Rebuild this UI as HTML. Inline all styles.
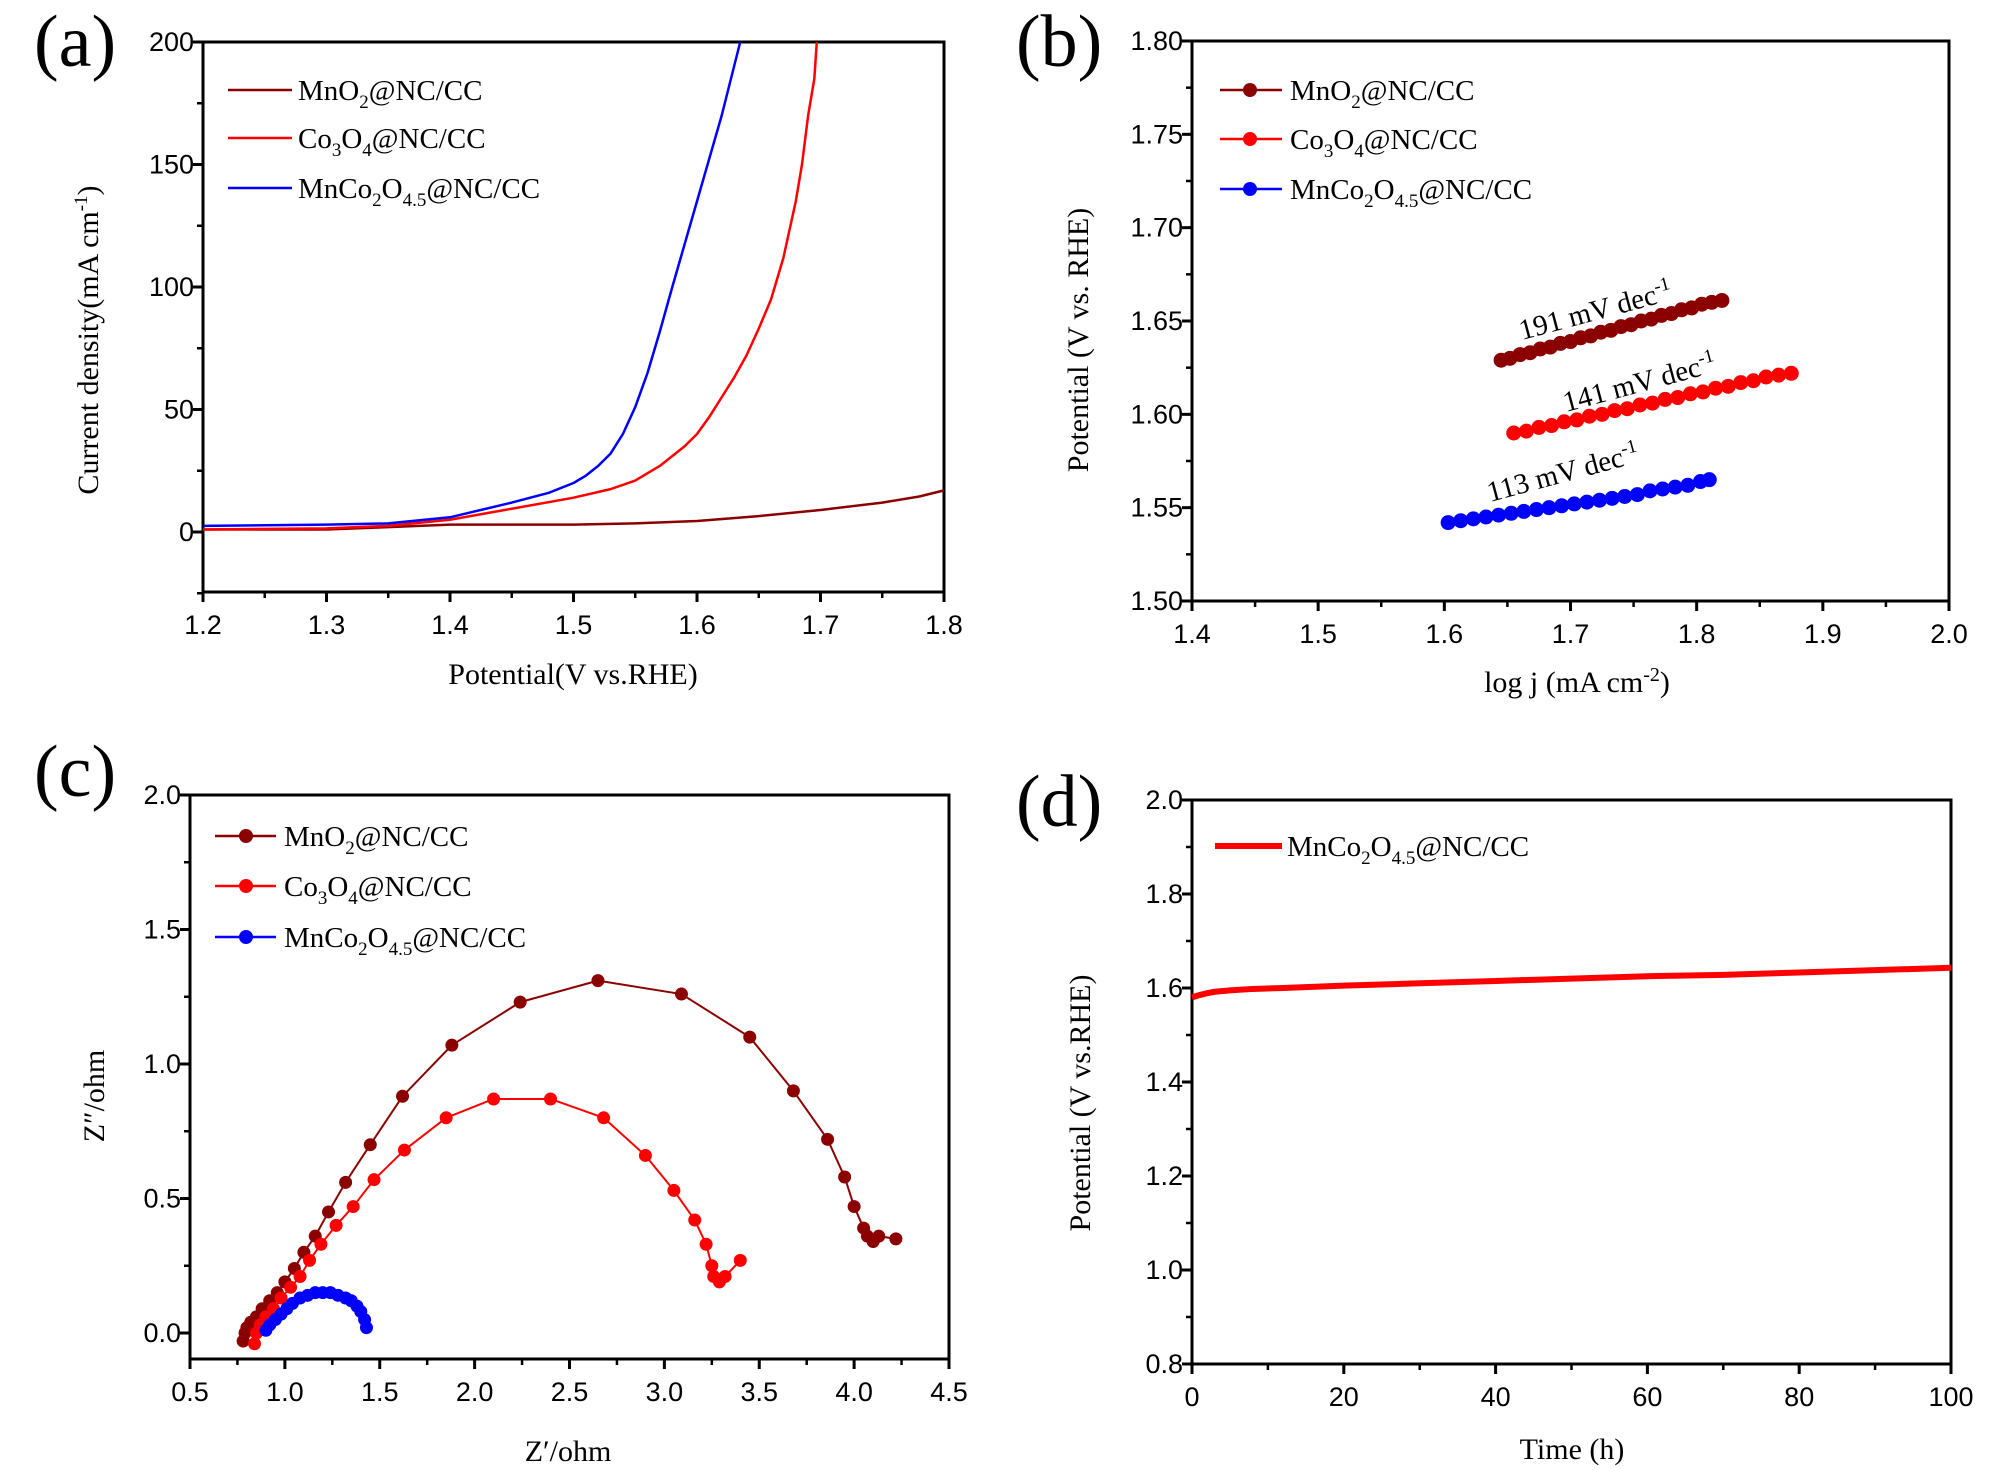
<!DOCTYPE html>
<html><head><meta charset="utf-8"><style>
html,body{margin:0;padding:0;background:#fff;}
svg{display:block;}
.tk{font-family:"Liberation Sans",sans-serif;font-size:27px;fill:#000;}
.tt{font-family:"Liberation Serif",serif;font-size:30px;fill:#000;}
.lg{font-family:"Liberation Serif",serif;font-size:29px;fill:#000;}
.pl{font-family:"Liberation Serif",serif;font-size:74px;fill:#000;}
</style></head><body>
<svg id="fig" width="2000" height="1470" viewBox="0 0 2000 1470" xmlns="http://www.w3.org/2000/svg">
<g id="layer"></g>
<text class="pl" x="34" y="66">(a)</text>
<text class="pl" x="1016" y="66">(b)</text>
<text class="pl" x="34" y="796">(c)</text>
<text class="pl" x="1016" y="826">(d)</text>

<text class="tt" x="573" y="684" text-anchor="middle">Potential(V vs.RHE)</text>
<text class="tt" transform="translate(98,340) rotate(-90)" text-anchor="middle">Current density(mA cm<tspan dy="-11" font-size="19">-1</tspan><tspan dy="11">)</tspan></text>
<text class="tt" x="1577" y="692" text-anchor="middle" font-size="33">log j (mA cm<tspan dy="-11" font-size="20">-2</tspan><tspan dy="11">)</tspan></text>
<text class="tt" transform="translate(1088,340) rotate(-90)" text-anchor="middle">Potential (V vs. RHE)</text>
<text class="tt" x="568" y="1461" text-anchor="middle" font-size="33">Z′/ohm</text>
<text class="tt" transform="translate(104,1096) rotate(-90)" text-anchor="middle" font-size="33">Z″/ohm</text>
<text class="tt" x="1572" y="1459" text-anchor="middle">Time (h)</text>
<text class="tt" transform="translate(1090,1103) rotate(-90)" text-anchor="middle">Potential (V vs.RHE)</text>

<g>
<line x1="228" y1="90" x2="292" y2="90" stroke="#8b0000" stroke-width="2.5"/>
<text class="lg" x="298" y="100">MnO<tspan dy="8" font-size="19">2</tspan><tspan dy="-8">@NC/CC</tspan></text>
<line x1="228" y1="138" x2="292" y2="138" stroke="#ff0000" stroke-width="2.5"/>
<text class="lg" x="298" y="148">Co<tspan dy="8" font-size="19">3</tspan><tspan dy="-8">O</tspan><tspan dy="8" font-size="19">4</tspan><tspan dy="-8">@NC/CC</tspan></text>
<line x1="228" y1="188" x2="292" y2="188" stroke="#0000ff" stroke-width="2.5"/>
<text class="lg" x="298" y="198">MnCo<tspan dy="8" font-size="19">2</tspan><tspan dy="-8">O</tspan><tspan dy="8" font-size="19">4.5</tspan><tspan dy="-8">@NC/CC</tspan></text>
</g>
<g>
<line x1="1220" y1="90" x2="1282" y2="90" stroke="#8b0000" stroke-width="2.5"/><circle cx="1250" cy="90" r="7" fill="#8b0000"/>
<text class="lg" x="1290" y="100">MnO<tspan dy="8" font-size="19">2</tspan><tspan dy="-8">@NC/CC</tspan></text>
<line x1="1220" y1="139" x2="1282" y2="139" stroke="#ff0000" stroke-width="2.5"/><circle cx="1250" cy="139" r="7" fill="#ff0000"/>
<text class="lg" x="1290" y="149">Co<tspan dy="8" font-size="19">3</tspan><tspan dy="-8">O</tspan><tspan dy="8" font-size="19">4</tspan><tspan dy="-8">@NC/CC</tspan></text>
<line x1="1220" y1="189" x2="1282" y2="189" stroke="#0000ff" stroke-width="2.5"/><circle cx="1250" cy="189" r="7" fill="#0000ff"/>
<text class="lg" x="1290" y="199">MnCo<tspan dy="8" font-size="19">2</tspan><tspan dy="-8">O</tspan><tspan dy="8" font-size="19">4.5</tspan><tspan dy="-8">@NC/CC</tspan></text>
</g>
<g>
<line x1="215" y1="836" x2="276" y2="836" stroke="#8b0000" stroke-width="2.5"/><circle cx="246" cy="836" r="7" fill="#8b0000"/>
<text class="lg" x="284" y="846">MnO<tspan dy="8" font-size="19">2</tspan><tspan dy="-8">@NC/CC</tspan></text>
<line x1="215" y1="886" x2="276" y2="886" stroke="#ff0000" stroke-width="2.5"/><circle cx="246" cy="886" r="7" fill="#ff0000"/>
<text class="lg" x="284" y="896">Co<tspan dy="8" font-size="19">3</tspan><tspan dy="-8">O</tspan><tspan dy="8" font-size="19">4</tspan><tspan dy="-8">@NC/CC</tspan></text>
<line x1="215" y1="937" x2="276" y2="937" stroke="#0000ff" stroke-width="2.5"/><circle cx="246" cy="937" r="7" fill="#0000ff"/>
<text class="lg" x="284" y="947">MnCo<tspan dy="8" font-size="19">2</tspan><tspan dy="-8">O</tspan><tspan dy="8" font-size="19">4.5</tspan><tspan dy="-8">@NC/CC</tspan></text>
</g>
<g>
<line x1="1215" y1="846" x2="1282" y2="846" stroke="#ff0000" stroke-width="6"/>
<text class="lg" x="1287" y="856">MnCo<tspan dy="8" font-size="19">2</tspan><tspan dy="-8">O</tspan><tspan dy="8" font-size="19">4.5</tspan><tspan dy="-8">@NC/CC</tspan></text>
</g>
<text class="lg" font-size="31" transform="translate(1522,340) rotate(-15)">191 mV dec<tspan dy="-11" font-size="19">-1</tspan></text>
<text class="lg" font-size="31" transform="translate(1566,412) rotate(-15)">141 mV dec<tspan dy="-11" font-size="19">-1</tspan></text>
<text class="lg" font-size="31" transform="translate(1490,502) rotate(-15)">113 mV dec<tspan dy="-11" font-size="19">-1</tspan></text>
</svg>
<script>
// Panel (a) LSV data
const aMnO2X=[1.2,1.3,1.35,1.4,1.5,1.55,1.6,1.65,1.7,1.75,1.78,1.8];
const aMnO2Y=[1,1,2,3,3,3.5,4.5,6.5,9,12,14.5,17];
const aCoX=[1.2,1.3,1.35,1.4,1.45,1.5,1.53,1.55,1.57,1.59,1.6,1.61,1.62,1.63,1.64,1.65,1.66,1.67,1.68,1.685,1.69,1.695,1.697];
const aCoY=[1,1.5,2.5,5,9.5,14,17.5,21,27,35,40,47,55,63,72,83,95,112,135,150,170,185,200];
const aMnCoX=[1.2,1.3,1.35,1.4,1.45,1.48,1.5,1.51,1.52,1.53,1.54,1.55,1.56,1.57,1.58,1.6,1.62,1.635];
const aMnCoY=[2.5,3,3.5,6,12,16,20,23,27,32,40,51,65,82,100,135,170,200];
// Panel (b) Tafel data
const bMnO2X=[1.645,1.652,1.66,1.668,1.676,1.684,1.692,1.70,1.708,1.716,1.724,1.732,1.74,1.748,1.756,1.764,1.772,1.78,1.788,1.796,1.804,1.812,1.82];
const bMnO2Y=[1.629,1.630,1.632,1.633,1.635,1.636,1.638,1.639,1.641,1.642,1.644,1.645,1.647,1.648,1.650,1.651,1.653,1.654,1.656,1.657,1.659,1.660,1.661];
const bCoX=[1.655,1.665,1.675,1.685,1.695,1.705,1.715,1.725,1.735,1.745,1.755,1.765,1.775,1.785,1.795,1.805,1.815,1.825,1.835,1.845,1.855,1.865,1.875];
const bCoY=[1.590,1.591,1.593,1.594,1.596,1.597,1.599,1.600,1.602,1.603,1.605,1.606,1.608,1.609,1.611,1.612,1.614,1.615,1.617,1.618,1.620,1.621,1.622];
const bMnCoX=[1.603,1.613,1.623,1.633,1.643,1.653,1.663,1.673,1.683,1.693,1.703,1.713,1.723,1.733,1.743,1.753,1.763,1.773,1.783,1.793,1.803,1.81];
const bMnCoY=[1.542,1.543,1.544,1.545,1.546,1.547,1.548,1.549,1.550,1.551,1.552,1.553,1.554,1.555,1.556,1.557,1.559,1.560,1.561,1.562,1.564,1.565];
// Panel (c) EIS data
const cMnO2X=[0.78,0.79,0.80,0.82,0.85,0.88,0.92,0.96,1.00,1.05,1.10,1.16,1.23,1.32,1.45,1.62,1.88,2.24,2.65,3.09,3.45,3.68,3.86,3.95,4.00,4.05,4.07,4.10,4.13,4.22];
const cMnO2Y=[-0.03,0,0.02,0.04,0.06,0.09,0.12,0.15,0.19,0.24,0.30,0.36,0.45,0.56,0.70,0.88,1.07,1.23,1.31,1.26,1.10,0.90,0.72,0.58,0.47,0.39,0.36,0.34,0.36,0.35];
const cCoX=[0.84,0.85,0.87,0.90,0.94,0.98,1.03,1.08,1.13,1.19,1.27,1.36,1.47,1.63,1.85,2.10,2.40,2.68,2.90,3.05,3.16,3.22,3.25,3.26,3.29,3.32,3.40];
const cCoY=[-0.04,0,0.03,0.06,0.09,0.13,0.17,0.21,0.27,0.33,0.40,0.47,0.57,0.68,0.80,0.87,0.87,0.80,0.66,0.53,0.42,0.33,0.25,0.21,0.19,0.21,0.27];
const cMnCoX=[0.90,0.92,0.95,0.98,1.01,1.04,1.08,1.12,1.16,1.20,1.24,1.28,1.32,1.35,1.38,1.40,1.42,1.43];
const cMnCoY=[0.01,0.03,0.05,0.07,0.09,0.11,0.13,0.14,0.15,0.15,0.15,0.14,0.13,0.12,0.10,0.08,0.05,0.02];
// Panel (d) stability data
const dT=[0,1,2,3,5,8,12,20,30,40,50,60,70,80,90,100];
const dV=[1.58,1.585,1.589,1.592,1.595,1.598,1.600,1.605,1.610,1.615,1.620,1.625,1.628,1.633,1.638,1.643];
// Tick labels
const aXTicks=["1.2","1.3","1.4","1.5","1.6","1.7","1.8"];
const aYTicks=["0","50","100","150","200"];
const bXTicks=["1.4","1.5","1.6","1.7","1.8","1.9","2.0"];
const bYTicks=["1.50","1.55","1.60","1.65","1.70","1.75","1.80"];
const cXTicks=["0.5","1.0","1.5","2.0","2.5","3.0","3.5","4.0","4.5"];
const cYTicks=["0.0","0.5","1.0","1.5","2.0"];
const dXTicks=["0","20","40","60","80","100"];
const dYTicks=["0.8","1.0","1.2","1.4","1.6","1.8","2.0"];

const NS="http://www.w3.org/2000/svg";
const layer=document.getElementById('layer');
function mk(tag,attrs,parent){const e=document.createElementNS(NS,tag);for(const k in attrs)e.setAttribute(k,attrs[k]);(parent||layer).appendChild(e);return e;}
function scale(d0,d1,p0,p1){return v=>p0+(v-d0)*(p1-p0)/(d1-d0);}

function axes(id,L,R,T,B,sx,sy,xt,yt,xMinorStep,yMinorStep,xr,yr){
  const g=mk('g',{});
  
  
  const fr=mk('rect',{x:L,y:T,width:R-L,height:B-T,fill:'none',stroke:'#000','stroke-width':3},g);
  
  
  xt.forEach(s=>{const v=parseFloat(s),x=sx(v);
    mk('line',{x1:x,y1:B,x2:x,y2:B+10,stroke:'#000','stroke-width':3},g);
    const t=mk('text',{x:x,y:B+42,'text-anchor':'middle',class:'tk'},g);t.textContent=s;
    
    
  });
  for(let v=xr[0];v<=xr[1]+1e-9;v+=xMinorStep){const x=sx(v);mk('line',{x1:x,y1:B,x2:x,y2:B+6,stroke:'#000','stroke-width':2.5},g);}
  yt.forEach(s=>{const v=parseFloat(s),y=sy(v);
    mk('line',{x1:L-10,y1:y,x2:L,y2:y,stroke:'#000','stroke-width':3},g);
    const t=mk('text',{x:L-9,y:y+9,'text-anchor':'end',class:'tk'},g);t.textContent=s;
    
    
  });
  for(let v=yr[0];v<=yr[1]+1e-9;v+=yMinorStep){const y=sy(v);mk('line',{x1:L-6,y1:y,x2:L,y2:y,stroke:'#000','stroke-width':2.5},g);}
}
function line(name,xs,ys,sx,sy,color,w){
  const p=mk('polyline',{points:xs.map((x,i)=>sx(x)+','+sy(ys[i])).join(' '),fill:'none',stroke:color,'stroke-width':w,'stroke-linejoin':'round'});
  
  
}
function dots(name,xs,ys,sx,sy,color,r){
  const g=mk('g',{fill:color});
  
  
  xs.forEach((x,i)=>mk('circle',{cx:sx(x),cy:sy(ys[i]),r:r},g));
}

// (a)
const ax=scale(1.2,1.8,203,944), ay=scale(0,200,532,42);
axes('a',203,944,42,592,ax,ay,aXTicks,aYTicks,0.05,25,[1.2,1.8],[-25,200]);
line('a-mno2-line',aMnO2X,aMnO2Y,ax,ay,'#8b0000',2.5);
line('a-co3o4-line',aCoX,aCoY,ax,ay,'#ff0000',2.5);
line('a-mnco2o45-line',aMnCoX,aMnCoY,ax,ay,'#0000ff',2.5);
// (b)
const bx=scale(1.4,2.0,1192,1949), by=scale(1.5,1.8,601,41);
axes('b',1192,1949,41,601,bx,by,bXTicks,bYTicks,0.05,0.025,[1.4,2.0],[1.5,1.8]);
line('b-mno2-line',bMnO2X,bMnO2Y,bx,by,'#8b0000',2.5);dots('b-mno2-points',bMnO2X,bMnO2Y,bx,by,'#8b0000',7.5);
line('b-co3o4-line',bCoX,bCoY,bx,by,'#ff0000',2.5);dots('b-co3o4-points',bCoX,bCoY,bx,by,'#ff0000',7.5);
line('b-mnco2o45-line',bMnCoX,bMnCoY,bx,by,'#0000ff',2.5);dots('b-mnco2o45-points',bMnCoX,bMnCoY,bx,by,'#0000ff',7.5);
// (c)
const cx=scale(0.5,4.5,190,949), cy=scale(0,2,1333,795);
axes('c',190,949,795,1359,cx,cy,cXTicks,cYTicks,0.25,0.25,[0.5,4.5],[0,2]);
line('c-mno2-line',cMnO2X,cMnO2Y,cx,cy,'#8b0000',2);dots('c-mno2-points',cMnO2X,cMnO2Y,cx,cy,'#8b0000',6.5);
line('c-co3o4-line',cCoX,cCoY,cx,cy,'#ff0000',2);dots('c-co3o4-points',cCoX,cCoY,cx,cy,'#ff0000',6.5);
line('c-mnco2o45-line',cMnCoX,cMnCoY,cx,cy,'#0000ff',2);dots('c-mnco2o45-points',cMnCoX,cMnCoY,cx,cy,'#0000ff',6.5);
// (d)
const dx=scale(0,100,1192,1951), dy=scale(0.8,2.0,1364,800);
axes('d',1192,1951,800,1364,dx,dy,dXTicks,dYTicks,10,0.1,[0,100],[0.8,2.0]);
line('d-stability-line',dT,dV,dx,dy,'#ff0000',6);
</script>
</body></html>
